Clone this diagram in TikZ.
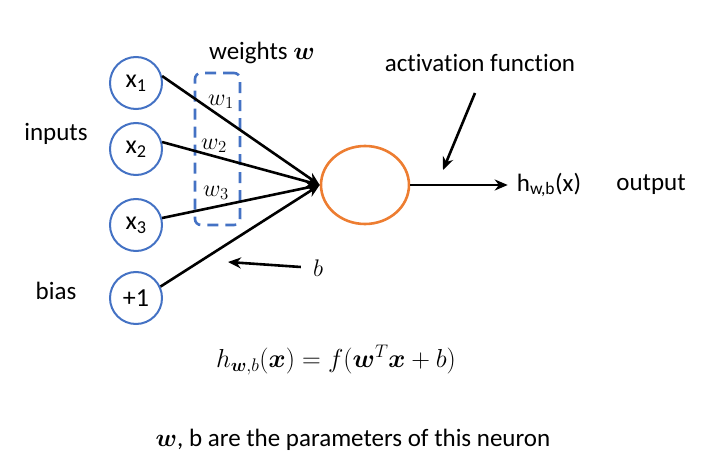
\RequirePackage{fix-cm}
\documentclass[tikz,border=0pt]{standalone}
\usepackage{fontspec}
\usepackage{amsmath}
\setmainfont{Carlito}[Ligatures=NoCommon]
\definecolor{in-blue}{RGB}{68,114,196}
\definecolor{act-orange}{RGB}{237,125,49}
\usetikzlibrary{
  shapes.geometric, % ellipse for the neuron
  positioning,      % relative placement
  arrows.meta
}
\tikzset{
  x=1pt, y=-1pt,
  every node/.style = {
    inner sep = 0pt,
    font = \fontsize{25}{29}\selectfont
  },
  input/.append style = {circle, draw=in-blue, line width=2pt, minimum size=52pt,
    font = \fontsize{26}{30}\selectfont},
  neuron/.append style = {ellipse, draw=act-orange, line width=2.6pt,
    minimum width=88pt, minimum height=78pt},
  wbox/.append style = {rectangle, draw=in-blue, line width=2.6pt, rounded corners=6pt,
    dash pattern=on 11pt off 7pt, minimum width=45pt, minimum height=152pt},
  wlabel/.append style = {font = \fontsize{24}{28}\selectfont},
  conn/.append style = {->, line width=2.6pt},
  >={Stealth[length=13pt, width=11pt]}  % arrow type
}

\begin{document}
\begin{tikzpicture}
  \useasboundingbox (0,0) rectangle (726,468);

  %% nodes
  \node[input] (x1) at (136,83) {x\textsubscript{1}};
  \node[input] (x2) at (136,149) {x\textsubscript{2}};
  \node[input] (x3) at (136,225) {x\textsubscript{3}};
  \node[input] (one) at (136,298) {+1};

  \node (inputs) at (56,134) {inputs};
  \node (bias) at (56,291) {bias};

  \node[wbox] (wts) at (217.5,149) {};
  \node (wtitle) at (262,53) {weights $\boldsymbol{w}$};
  \node[wlabel] (w1) at (221,102) {$w_1$};
  \node[wlabel] (w2) at (214,146) {$w_2$};
  \node[wlabel] (w3) at (216,193) {$w_3$};

  \node[neuron] (act) at (365,185) {};
  \node (acttext) at (480,63) {activation function};
  \coordinate (actfrom) at (475,93);
  \coordinate (actto) at (443,170);

  \node (hout) at (549,185) {h\textsubscript{w,b}(x)};
  \node (output) at (651,185) {output};

  \node[wlabel] (blab) at (318,268) {$b$};
  \coordinate (bto) at (228,262);

  \node[font=\fontsize{26}{30}\selectfont] (formula) at (336,360)
    {$h_{\boldsymbol{w},b}(\boldsymbol{x}) = f(\boldsymbol{w}^T\boldsymbol{x}+b)$};
  \node (params) at (353,440) {$\boldsymbol{w}$, b are the parameters of this neuron};

  %% arrows
  \draw[conn] (x1.15) -- (act.west);
  \draw[conn] (x2.15) -- (act.west);
  \draw[conn] (x3.15) -- (act.west);
  \draw[conn] (one.25) -- (act.west);

  \draw[conn] (blab.west) ++(-12,-1) -- (bto);
  \draw[conn] (actfrom) -- (actto);
  \draw[conn, shorten >=9pt] (act.east) -- (hout.west);

\end{tikzpicture}
\end{document}
